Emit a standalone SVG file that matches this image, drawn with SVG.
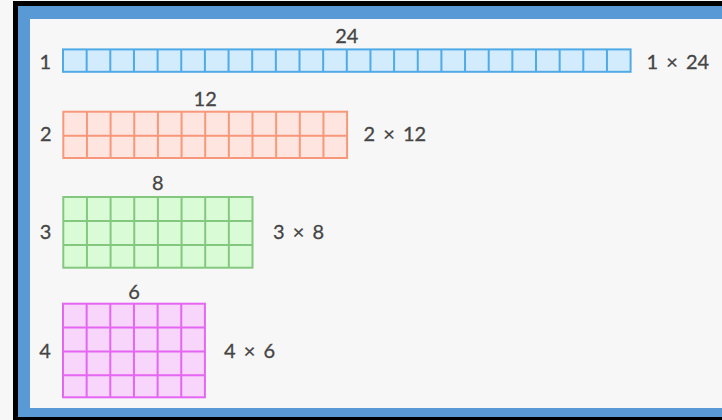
<svg xmlns="http://www.w3.org/2000/svg" width="722" height="420" viewBox="0 0 722 420">
<style>
.lbl{font-family:Lato,"Open Sans","Liberation Sans",sans-serif;font-size:20px;fill:#454545;stroke:#454545;stroke-width:0.3;}
.mid{text-anchor:middle;}
.g{stroke-width:2;}
.blue{fill:#d2ecfd;stroke:#4faae6;}
.orange{fill:#ffe5df;stroke:#f8987a;}
.green{fill:#d9fcd6;stroke:#84c880;}
.pink{fill:#f8d5fb;stroke:#e466f2;}
.ln{fill:none;stroke-width:2;}
</style>
<rect x="0" y="0" width="722" height="420" fill="#f7f7f7"/>
<rect x="13" y="1" width="712" height="422" fill="#000"/>
<rect x="18" y="6" width="707" height="411" fill="#5899d6"/>
<rect x="30" y="19" width="695" height="389" fill="#f7f7f7"/>

<g id="row1">
<rect class="blue g" x="63" y="49.4" width="567.6" height="22.4"/>
<path class="blue ln" d="M86.65 49.4V71.8M110.3 49.4V71.8M133.95 49.4V71.8M157.6 49.4V71.8M181.25 49.4V71.8M204.9 49.4V71.8M228.55 49.4V71.8M252.2 49.4V71.8M275.85 49.4V71.8M299.5 49.4V71.8M323.15 49.4V71.8M346.8 49.4V71.8M370.45 49.4V71.8M394.1 49.4V71.8M417.75 49.4V71.8M441.4 49.4V71.8M465.05 49.4V71.8M488.7 49.4V71.8M512.35 49.4V71.8M536 49.4V71.8M559.65 49.4V71.8M583.3 49.4V71.8M606.95 49.4V71.8"/>
<text class="lbl mid" x="346.8" y="43.3">24</text>
<text class="lbl mid" x="45.3" y="68.5">1</text>
<text class="lbl" x="646.5" y="69" word-spacing="3">1 × 24</text>
</g>

<g id="row2">
<rect class="orange g" x="63.3" y="111.7" width="283.8" height="46.3"/>
<path class="orange ln" d="M63.3 135.8H347.1M86.95 111.7V158M110.6 111.7V158M134.25 111.7V158M157.9 111.7V158M181.55 111.7V158M205.2 111.7V158M228.85 111.7V158M252.5 111.7V158M276.15 111.7V158M299.8 111.7V158M323.45 111.7V158"/>
<text class="lbl mid" x="205.2" y="105.7">12</text>
<text class="lbl mid" x="45.8" y="140.7">2</text>
<text class="lbl" x="363.5" y="140.7" word-spacing="3">2 × 12</text>
</g>

<g id="row3">
<rect class="green g" x="63.3" y="197" width="189.2" height="70.7"/>
<path class="green ln" d="M63.3 221H252.5M63.3 245H252.5M86.95 197V267.7M110.6 197V267.7M134.25 197V267.7M157.9 197V267.7M181.55 197V267.7M205.2 197V267.7M228.85 197V267.7"/>
<text class="lbl mid" x="157.9" y="190.3">8</text>
<text class="lbl mid" x="45.5" y="239.3">3</text>
<text class="lbl" x="273" y="239.3" word-spacing="3">3 × 8</text>
</g>

<g id="row4">
<rect class="pink g" x="63" y="303.7" width="141.9" height="93.6"/>
<path class="pink ln" d="M63 327.6H204.9M63 351.5H204.9M63 375.3H204.9M86.65 303.7V397.3M110.3 303.7V397.3M133.95 303.7V397.3M157.6 303.7V397.3M181.25 303.7V397.3"/>
<text class="lbl mid" x="134" y="299">6</text>
<text class="lbl mid" x="45" y="358.3">4</text>
<text class="lbl" x="224" y="358.3" word-spacing="3">4 × 6</text>
</g>
</svg>
